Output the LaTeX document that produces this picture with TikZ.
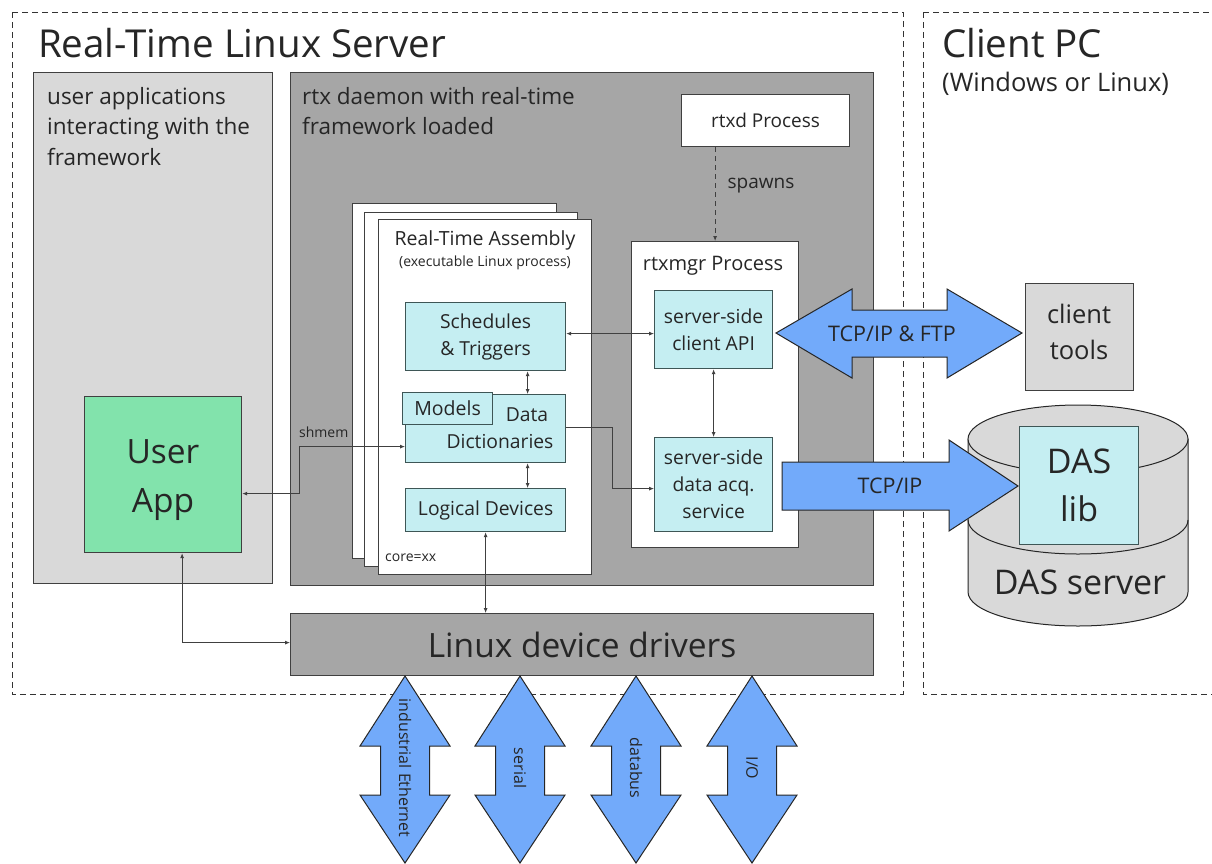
\documentclass[tikz,border=0pt]{standalone}
\usepackage{fontspec}
\setmainfont{Open Sans}
\usetikzlibrary{arrows.meta,calc}
\definecolor{txt}{HTML}{262626}
\definecolor{edge}{HTML}{404040}
\definecolor{lgray}{HTML}{D9D9D9}
\definecolor{dgray}{HTML}{A6A6A6}
\definecolor{cyanfill}{HTML}{C5EEF2}
\definecolor{cyanedge}{HTML}{3E5656}
\definecolor{appgreen}{HTML}{82E3AC}
\definecolor{pipeblue}{HTML}{72AAFA}
\newcommand{\fs}[2]{\fontsize{#1}{#2}\selectfont}
\tikzset{
  every node/.style={text=txt},
  panel/.style={draw=edge, line width=1.2pt, anchor=north west, inner sep=0pt},
  lightpanel/.style={panel, fill=lgray},
  darkpanel/.style={panel, fill=dgray},
  whitebox/.style={panel, fill=white},
  cyanbox/.style={draw=cyanedge, line width=1.2pt, fill=cyanfill, anchor=north west, inner sep=0pt, align=center, font=\fs{19.3}{27}},
  conn/.style={draw=edge, line width=0.8pt, arrows={Latex[length=5pt,width=4pt]-Latex[length=5pt,width=4pt]}},
  oneway/.style={draw=edge, line width=0.8pt, -{Latex[length=5pt,width=4pt]}},
  pipe/.style={fill=pipeblue, draw=black!85, line width=1pt, line join=miter},
  zone/.style={draw=black!80, line width=0.9pt, dash pattern=on 6pt off 4pt},
}
\begin{document}
\begin{tikzpicture}[x=1pt, y=-1pt]
\useasboundingbox (0,0) rectangle (1212,863);

% dashed zones
\draw[zone] (12,12) rectangle (903,694);
\draw[zone] (923,12) -- (923,694) -- (1220,694);
\draw[zone] (923,12) -- (1220,12);
\node[anchor=base west, inner sep=0pt, font=\fs{38.5}{42}] (srvtitle) at (38,57) {Real-Time Linux Server};
\node[anchor=base west, inner sep=0pt, font=\fs{38.5}{42}] (pctitle) at (942,57) {Client PC};
\node[anchor=base west, inner sep=0pt, font=\fs{25.5}{28}] (pcsub) at (942,91) {(Windows or Linux)};

% user application area
\node[lightpanel, minimum width=239pt, minimum height=511pt] (userarea) at (33,72) {};
\node[anchor=north west, inner sep=0pt, align=left, font=\fs{22.5}{30.5}] (usertxt) at (47,87)
  {user applications\\interacting with the\\framework};

% rtx daemon area
\node[darkpanel, minimum width=583pt, minimum height=513pt] (daemon) at (290,72) {};
\node[anchor=north west, inner sep=0pt, align=left, font=\fs{22.5}{30.5}] (daemontxt) at (302,87)
  {rtx daemon with real-time\\framework loaded};

% rtxd process
\node[whitebox, minimum width=168pt, minimum height=52pt, font=\fs{19}{22}] (rtxd) at (681,94) {rtxd Process};

% rtxmgr process
\node[whitebox, minimum width=167pt, minimum height=306pt] (mgr) at (631,241) {};
\node[font=\fs{20}{22}] (mgrtxt) at (713,266) {rtxmgr Process};
\node[cyanbox, minimum width=118pt, minimum height=78pt] (capi) at (654,290) {server-side\\client API};
\node[cyanbox, minimum width=118pt, minimum height=94pt] (acq) at (654,437) {server-side\\data acq.\\service};

% stacked assembly pages
\node[whitebox, minimum width=204pt, minimum height=355pt] (pageA) at (352,203) {};
\node[whitebox, minimum width=213pt, minimum height=354pt] (pageB) at (364,212) {};
\node[whitebox, minimum width=213pt, minimum height=355pt] (pageC) at (378,219) {};
\node[anchor=base, inner sep=0pt, font=\fs{19.5}{22}] (asmtitle) at (485,245) {Real-Time Assembly};
\node[anchor=base, inner sep=0pt, font=\fs{14}{16}] (asmsub) at (485,266) {(executable Linux process)};
\node[anchor=base west, inner sep=0pt, font=\fs{14}{16}] (core) at (385,561) {core=xx};

\node[cyanbox, minimum width=160pt, minimum height=68pt] (sched) at (405,302) {Schedules\\\& Triggers};
\node[cyanbox, minimum width=160pt, minimum height=68pt] (dd) at (405,394) {};
\node[anchor=base, inner sep=0pt, font=\fs{19.3}{22}] (ddtop) at (527,421) {Data};
\node[anchor=base, inner sep=0pt, font=\fs{19.3}{22}] (ddbot) at (500,448) {Dictionaries};
\node[cyanbox, minimum width=90pt, minimum height=32pt, font=\fs{19.5}{22}] (models) at (402,392) {Models};
\node[cyanbox, minimum width=160pt, minimum height=43pt] (ld) at (405,488) {Logical Devices};

% user app
\node[draw=edge, line width=1.2pt, fill=appgreen, anchor=north west, inner sep=0pt,
      minimum width=157pt, minimum height=156pt] (app) at (84,396) {};
\node[align=center, font=\fs{33.5}{49}] (apptxt) at (163,480) {User\\App};

% device drivers
\node[darkpanel, minimum width=583pt, minimum height=62pt, font=\fs{33.5}{36}] (drv) at (290,613) {Linux device drivers};

% client side
\node[draw=edge, line width=1.2pt, fill=lgray, anchor=north west, inner sep=0pt,
      minimum width=108pt, minimum height=107pt] (tools) at (1025,283) {};
\node[align=center, font=\fs{25.5}{36}] (toolstxt) at (1079,332) {client\\tools};

% DAS server cylinder
\filldraw[fill=lgray, draw=black!85, line width=1pt]
  (968,439) -- (968,592) arc[start angle=180, end angle=0, x radius=110, y radius=34] -- (1188,439) -- cycle;
\draw[black!85, line width=1pt] (968,520) arc[start angle=180, end angle=0, x radius=110, y radius=34];
\filldraw[fill=lgray, draw=black!85, line width=1pt] (1078,439) ellipse[x radius=110, y radius=34];
\node[font=\fs{34}{36}] (dasname) at (1080,582) {DAS server};
\node[cyanbox, minimum width=119pt, minimum height=118pt, font=\fs{34}{48}] (daslib) at (1019,426) {DAS\\lib};

% connectors
\draw[draw=edge, line width=0.8pt, dash pattern=on 5pt off 4pt, -{Latex[length=5pt,width=4pt]}] (mgr.north |- rtxd.south) -- (mgr.north);
\node[anchor=west, font=\fs{19}{22}] (spawns) at (724,186) {spawns};
\draw[conn] ([yshift=3pt]sched.east) -- ([yshift=3pt]sched.east -| capi.west);
\draw[conn] ([xshift=42pt]sched.south) -- ([xshift=42pt]sched.south |- dd.north);
\draw[conn] ([xshift=42pt]dd.south) -- ([xshift=42pt]dd.south |- ld.north);
\draw[conn] (capi.south) -- (acq.north);
\draw[oneway] ([yshift=1pt]dd.east) -- ++(46,0) |- ([yshift=-4pt]acq.west);
\draw[conn] ([yshift=-19pt]app.east) -- ++(57,0) |- ([yshift=-18pt]dd.west);
\node[anchor=base west, inner sep=0pt, font=\fs{14}{16}] (shmem) at (299,437) {shmem};
\draw[conn] ([xshift=19pt]app.south) |- ([yshift=2pt]drv.west);
\draw[conn] (ld.south) -- (ld.south |- drv.north);

% block arrows to the client side
\filldraw[pipe] (776,333) -- (852,289) -- (852,310) -- (947,310) -- (947,289) -- (1022,333)
  -- (947,378) -- (947,357) -- (852,357) -- (852,378) -- cycle;
\node[font=\fs{21.5}{24}] (ftp) at (892,334) {TCP/IP \& FTP};
\filldraw[pipe] (782,462) -- (949,462) -- (949,440) -- (1018,486) -- (949,531) -- (949,510) -- (782,510) -- cycle;
\node[font=\fs{21.5}{24}] (tcp) at (890,486) {TCP/IP};

% field bus block arrows
\foreach \cx/\lbl in {405/{industrial Ethernet}, 520/{serial}, 636/{databus}, 752/{I/O}}{
  \filldraw[pipe] (\cx,676) -- (\cx+45,746) -- (\cx+24.5,746) -- (\cx+24.5,795) -- (\cx+45,795)
    -- (\cx,863) -- (\cx-45,795) -- (\cx-24.5,795) -- (\cx-24.5,746) -- (\cx-45,746) -- cycle;
  \node[rotate=-90, font=\fs{16}{18}] at (\cx,768) {\lbl};
}
\end{tikzpicture}
\end{document}
